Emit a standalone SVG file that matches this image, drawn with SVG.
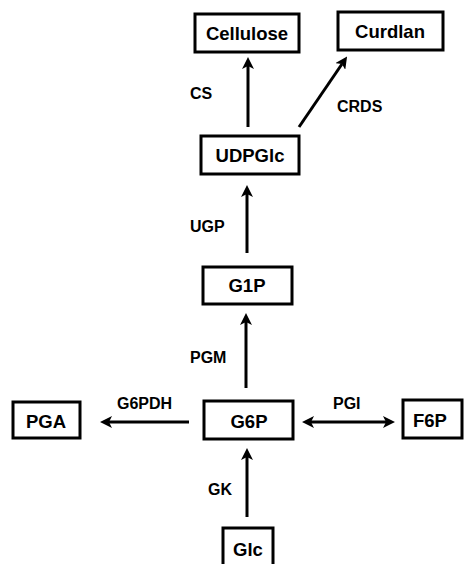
<svg xmlns="http://www.w3.org/2000/svg" width="464" height="564" viewBox="0 0 464 564">
<style>
.box{fill:#fff;stroke:#000;stroke-width:3}
.nt{font-family:"Liberation Sans",Arial,sans-serif;font-weight:bold;font-size:18.5px;text-anchor:middle;fill:#000}
.lb{font-family:"Liberation Sans",Arial,sans-serif;font-weight:bold;font-size:16px;fill:#000}
.ed{stroke:#000;stroke-width:3;fill:none;marker-end:url(#ah)}
</style>
<defs>
<marker id="ah" markerUnits="userSpaceOnUse" viewBox="0 0 12 12" markerWidth="12" markerHeight="12" refX="3" refY="6" orient="auto-start-reverse">
<path d="M0,0 L12,6 L0,12 L3,6 z" fill="#000"/>
</marker>
</defs>
<rect width="464" height="564" fill="#fff"/>
<g id="edges">
<line class="ed" x1="248" y1="127" x2="248" y2="66"/>
<line class="ed" x1="299" y1="127" x2="342" y2="64"/>
<line class="ed" x1="247" y1="253" x2="247" y2="194"/>
<line class="ed" x1="246" y1="388" x2="246" y2="322"/>
<line class="ed" x1="247" y1="517" x2="247" y2="457"/>
<line class="ed" x1="189" y1="422" x2="109" y2="422"/>
<line class="ed" x1="311" y1="422" x2="386" y2="422" style="marker-start:url(#ah)"/>
</g>
<g id="labels">
<text class="lb" x="190" y="99">CS</text>
<text class="lb" x="337" y="112">CRDS</text>
<text class="lb" x="190" y="232">UGP</text>
<text class="lb" x="190" y="363">PGM</text>
<text class="lb" x="117" y="409">G6PDH</text>
<text class="lb" x="333" y="409">PGI</text>
<text class="lb" x="208" y="495">GK</text>
</g>
<g id="Cellulose"><rect class="box" x="195" y="14" width="104" height="38"/><text class="nt" x="247" y="40">Cellulose</text></g>
<g id="Curdlan"><rect class="box" x="338" y="12" width="105" height="38"/><text class="nt" x="390" y="38">Curdlan</text></g>
<g id="UDPGlc"><rect class="box" x="201" y="136" width="98" height="38"/><text class="nt" x="250" y="162">UDPGlc</text></g>
<g id="G1P"><rect class="box" x="203" y="267" width="89" height="37"/><text class="nt" x="247" y="292">G1P</text></g>
<g id="G6P"><rect class="box" x="204" y="401" width="89" height="38"/><text class="nt" x="249" y="428">G6P</text></g>
<g id="PGA"><rect class="box" x="13" y="402" width="67" height="36"/><text class="nt" x="46" y="428">PGA</text></g>
<g id="F6P"><rect class="box" x="403" y="400" width="59" height="38"/><text class="nt" x="430" y="427">F6P</text></g>
<g id="Glc"><rect class="box" x="223" y="528" width="50" height="44"/><text class="nt" x="248" y="556">Glc</text></g>
</svg>
